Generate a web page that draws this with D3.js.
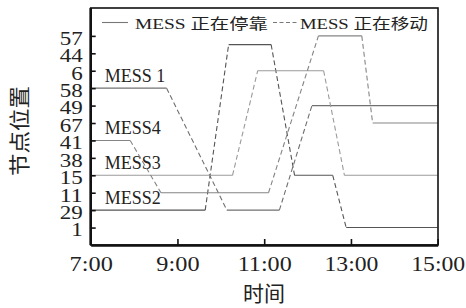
<!DOCTYPE html>
<html>
<head>
<meta charset="utf-8">
<script src="https://cdn.jsdelivr.net/npm/d3@7"></script>
<style>
  body { margin: 0; background: #fff; }
  svg text { font-family: "Liberation Serif", "Noto Sans CJK SC", serif; fill: #222; }
</style>
</head>
<body>
<svg id="chart" width="466" height="308"></svg>
<script>
// y categories (node positions), bottom to top
var posLabels = ["1", "29", "11", "15", "38", "41", "67", "49", "58", "6", "44", "57"];
// x ticks (hours)
var hourTicks = [7, 9, 11, 13, 15];

// each MESS: vertex times (h) and slot index into posLabels
// equal neighbours = parked (solid), different = moving (dashed)
var mess1Times = [7, 8.75, 10.14, 11.35, 12.10, 15];
var mess1Pos   = [8, 8, 1, 1, 7, 7];
var mess2Times = [7, 9.64, 10.18, 11.16, 11.70, 12.58, 12.89, 15];
var mess2Pos   = [1, 1, 10.5, 10.5, 3, 3, 0, 0];
var mess3Times = [7, 10.27, 10.85, 12.37, 12.85, 15];
var mess3Pos   = [3, 3, 9, 9, 3, 3];
var mess4Times = [7, 7.91, 8.62, 11.10, 12.25, 13.25, 13.50, 15];
var mess4Pos   = [5, 5, 2, 2, 11, 11, 6, 6];

var messNames  = ["MESS 1", "MESS2", "MESS3", "MESS4"];
var legendText = ["MESS 正在停靠", "MESS 正在移动"];

var series = [
  {name: messNames[0], t: mess1Times, p: mess1Pos, color: "#707070"},
  {name: messNames[1], t: mess2Times, p: mess2Pos, color: "#555555"},
  {name: messNames[2], t: mess3Times, p: mess3Pos, color: "#9a9a9a"},
  {name: messNames[3], t: mess4Times, p: mess4Pos, color: "#858585"}
];

var svg = d3.select("#chart"),
    plotL = 90.7, plotR = 438, plotT = 8, plotB = 245;

// scales
var x = d3.scaleLinear().domain([7, 15]).range([plotL, 437.7]);
var y = d3.scaleLinear().domain([-1, 12.6]).range([plotB, plotT]);

// line segments
var line = d3.line().x(function(d) { return x(d[0]); }).y(function(d) { return y(d[1]); });
series.forEach(function(s) {
  for (var i = 0; i < s.t.length - 1; i++) {
    var moving = s.p[i] !== s.p[i + 1];
    svg.append("path")
      .attr("d", line([[s.t[i], s.p[i]], [s.t[i + 1], s.p[i + 1]]]))
      .attr("fill", "none")
      .attr("stroke", s.color)
      .attr("stroke-width", 1.1)
      .attr("stroke-dasharray", moving ? "5,3" : null);
  }
  // label above starting position
  svg.append("text")
    .attr("x", x(7) + 14)
    .attr("y", y(s.p[0]) - 6.5)
    .attr("font-size", 18)
    .text(s.name);
});

// frame
svg.append("rect")
  .attr("x", plotL).attr("y", plotT)
  .attr("width", plotR - plotL).attr("height", plotB - plotT)
  .attr("fill", "none").attr("stroke", "#111").attr("stroke-width", 1.6);

// x axis (ticks inward)
var xAxis = svg.append("g")
  .attr("transform", "translate(0," + plotB + ")")
  .call(d3.axisBottom(x).tickValues(hourTicks).tickSizeInner(-6).tickSizeOuter(0)
    .tickPadding(10).tickFormat(function(d) { return d + ":00"; }));
xAxis.select(".domain").attr("stroke", "#111").attr("stroke-width", 2.6);
xAxis.selectAll(".tick line").attr("stroke", "#111").attr("stroke-width", 1.6);
xAxis.selectAll("text").attr("font-size", 22).attr("fill", "#222")
  .attr("font-family", "Liberation Serif")
  .attr("textLength", function(d) { return (d + ":00").length * 10.8; })
  .attr("lengthAdjust", "spacingAndGlyphs");

// y axis (ticks inward)
var yAxis = svg.append("g")
  .attr("transform", "translate(" + plotL + ",0)")
  .call(d3.axisLeft(y).tickValues(d3.range(posLabels.length)).tickSizeInner(-5).tickSizeOuter(0)
    .tickPadding(8).tickFormat(function(d) { return posLabels[d]; }));
yAxis.select(".domain").attr("d", "M0," + plotT + "V" + plotB)
  .attr("stroke", "#111").attr("stroke-width", 2.6);
yAxis.selectAll(".tick line").attr("stroke", "#111").attr("stroke-width", 1.6);
yAxis.selectAll("text").attr("font-size", 18.5).attr("fill", "#222")
  .attr("font-family", "Liberation Serif").attr("dy", "0.45em")
  .attr("textLength", function(d) { return posLabels[d].length * 11.5; })
  .attr("lengthAdjust", "spacingAndGlyphs");

// axis titles
svg.append("text")
  .attr("transform", "translate(27,131) rotate(-90)")
  .attr("text-anchor", "middle")
  .attr("font-size", 21)
  .attr("textLength", 90)
  .attr("lengthAdjust", "spacingAndGlyphs")
  .text("节点位置");
svg.append("text")
  .attr("x", 264).attr("y", 301)
  .attr("text-anchor", "middle")
  .attr("font-size", 21)
  .text("时间");

// legend
var lg = svg.append("g");
lg.append("line").attr("x1", 102).attr("x2", 128).attr("y1", 22.5).attr("y2", 22.5)
  .attr("stroke", "#777").attr("stroke-width", 1.1);
lg.append("text").attr("x", 135).attr("y", 28.5).attr("font-size", 14.5)
  .attr("textLength", 133).attr("lengthAdjust", "spacingAndGlyphs").text(legendText[0]);
lg.append("line").attr("x1", 273).attr("x2", 298.5).attr("y1", 22.5).attr("y2", 22.5)
  .attr("stroke", "#777").attr("stroke-width", 1.1).attr("stroke-dasharray", "4,2.5");
lg.append("text").attr("x", 300).attr("y", 28.5).attr("font-size", 14.5)
  .attr("textLength", 128).attr("lengthAdjust", "spacingAndGlyphs").text(legendText[1]);
</script>
</body>
</html>
